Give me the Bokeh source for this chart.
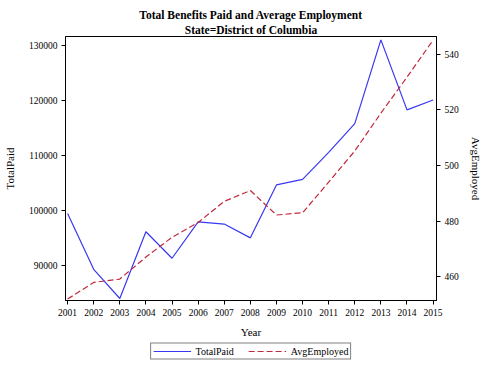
from bokeh.plotting import figure
from bokeh.layouts import column
from bokeh.models import Range1d, LinearAxis, FixedTicker, Legend, LegendItem, Title, Spacer
from bokeh.embed import file_html
from bokeh.resources import INLINE

years = [2001, 2002, 2003, 2004, 2005, 2006, 2007, 2008, 2009, 2010, 2011, 2012, 2013, 2014, 2015]
total_paid = [99500, 89400, 84100, 96200, 91400, 98000, 97600, 95100, 104700, 105700, 110600, 115800, 131000, 118300, 120100]
avg_employed = [452.0, 458.0, 459.2, 467.1, 474.2, 479.5, 487.1, 491.0, 482.2, 483.0, 494.0, 505.2, 518.8, 531.7, 545.0]
left_ticks = [90000, 100000, 110000, 120000, 130000]
right_ticks = [460, 480, 500, 520, 540]
title_main = "Total Benefits Paid and Average Employment"
title_sub = "State=District of Columbia"
series_names = ["TotalPaid", "AvgEmployed"]

FONT = "Liberation Serif"
BLUE = "#3838F2"
RED = "#C0283C"
DASH = "6 3"

p = figure(width=484, height=334, output_backend="svg", toolbar_location=None,
           title_location=None,
           x_range=Range1d(2000.92, 2015.13), y_range=Range1d(83740, 131610),
           min_border_left=64, min_border_right=42, min_border_top=0, min_border_bottom=40)

p.add_layout(Title(text=title_sub, align="center", text_font=FONT, text_font_size="11.5px",
                   text_font_style="bold", text_color="black", standoff=2), "above")
p.add_layout(Title(text=title_main, align="center", text_font=FONT, text_font_size="11.5px",
                   text_font_style="bold", text_color="black", standoff=0), "above")

p.extra_y_ranges = {"emp": Range1d(451.5, 546.3)}

p.grid.visible = False
p.outline_line_color = "black"
p.outline_line_width = 1
p.background_fill_color = "white"
p.border_fill_color = "white"

p.line(years, total_paid, line_color=BLUE, line_width=1.2)
p.line(years, avg_employed, y_range_name="emp", line_color=RED,
       line_width=1.2, line_dash=DASH)

right = LinearAxis(y_range_name="emp", axis_label=series_names[1])
p.add_layout(right, "right")

p.xaxis.ticker = FixedTicker(ticks=years)
p.xaxis.axis_label = "Year"
p.yaxis[0].ticker = FixedTicker(ticks=left_ticks)
p.yaxis[0].axis_label = series_names[0]
right.ticker = FixedTicker(ticks=right_ticks)

for ax in [p.xaxis[0], p.yaxis[0], right]:
    ax.major_label_text_font = FONT
    ax.major_label_text_font_size = "9.5px"
    ax.major_label_text_color = "black"
    ax.axis_label_text_font = FONT
    ax.axis_label_text_font_size = "11px"
    ax.axis_label_text_font_style = "normal"
    ax.axis_label_text_color = "black"
    ax.minor_tick_line_color = None
    ax.major_tick_out = 4
    ax.major_tick_in = 0
    ax.axis_line_color = "black"
    ax.major_tick_line_color = "black"
    ax.major_label_standoff = 4

p.yaxis[0].axis_label_standoff = 10
right.axis_label_standoff = 8
p.xaxis[0].axis_label_standoff = 7
p.yaxis[0].formatter.use_scientific = False
right.formatter.use_scientific = False

# legend strip below the chart
lf = figure(width=484, height=21, output_backend="svg", toolbar_location=None,
            x_axis_type=None, y_axis_type=None, title_location=None,
            x_range=Range1d(0, 1), y_range=Range1d(0, 1),
            min_border_left=64, min_border_right=42, min_border_top=0, min_border_bottom=0)
lf.grid.visible = False
lf.outline_line_color = None
lf.background_fill_color = "white"
lf.border_fill_color = "white"
# legend-only renderers, kept outside the visible range of this strip
g1 = lf.line([-5, -4], [-5, -4], line_color=BLUE, line_width=1.2)
g2 = lf.line([-5, -4], [-5, -4], line_color=RED, line_width=1.2, line_dash=DASH)

legend = Legend(items=[LegendItem(label=series_names[0], renderers=[g1]),
                       LegendItem(label=series_names[1], renderers=[g2])],
                orientation="horizontal", location="center")
legend.label_text_font = FONT
legend.label_text_font_size = "10px"
legend.label_text_color = "black"
legend.border_line_color = "black"
legend.border_line_width = 1
legend.background_fill_color = "white"
legend.glyph_width = 38
legend.glyph_height = 9
legend.label_height = 9
legend.padding = 2
legend.spacing = 14
legend.margin = 0
legend.label_standoff = 5
lf.add_layout(legend, "center")

layout = column(Spacer(width=484, height=6), p, lf, spacing=0)
open("out.html", "w").write(file_html(layout, INLINE))
